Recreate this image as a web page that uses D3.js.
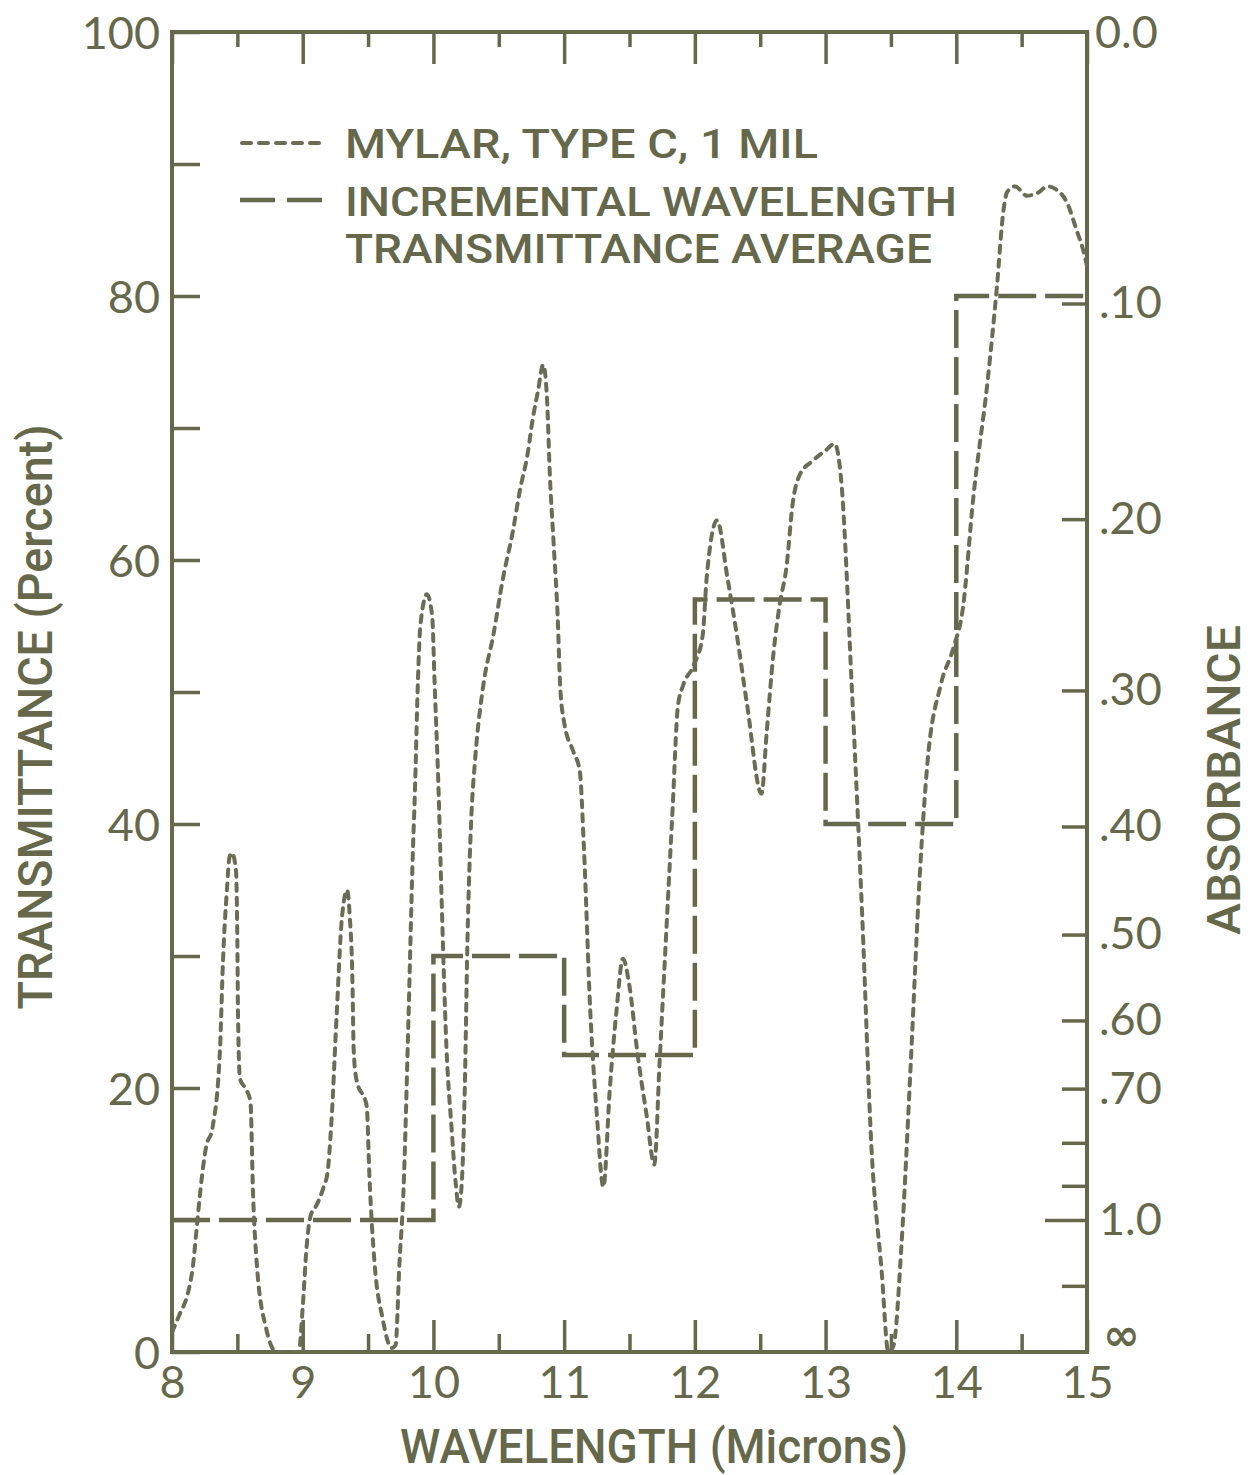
<!DOCTYPE html>
<html>
<head>
<meta charset="utf-8">
<script src="https://cdn.jsdelivr.net/npm/d3@7"></script>
<style>
  body { margin: 0; background: #ffffff; }
  svg { display: block; }
</style>
</head>
<body>
<svg id="chart" width="1250" height="1475"></svg>
<script>
// Mylar (type C, 1 mil) infrared transmittance spectrum, wavelength in microns
const wavelength = [
  8.00, 8.06, 8.12, 8.16, 8.19, 8.22, 8.26, 8.31, 8.367, 8.39, 8.42, 8.44, 8.46, 8.49, 8.50, 8.505, 8.52, 8.56, 8.60, 8.62, 8.65, 8.72, 8.80,
  8.97, 9.00, 9.03, 9.06, 9.11, 9.16, 9.19, 9.22, 9.26, 9.30, 9.34, 9.36, 9.38, 9.39, 9.41, 9.49, 9.51, 9.55, 9.61, 9.68,
  9.71, 9.74, 9.77, 9.81, 9.84, 9.86, 9.88, 9.90, 9.95, 9.99, 10.01, 10.04, 10.06, 10.10, 10.14, 10.17, 10.195,
  10.22, 10.24, 10.26, 10.29, 10.32, 10.38, 10.46, 10.53, 10.61, 10.66, 10.72, 10.76, 10.80, 10.84,
  10.87, 10.89, 10.92, 10.95, 10.97, 11.00, 11.07, 11.12, 11.15, 11.20, 11.25, 11.30,
  11.35, 11.40, 11.45, 11.50, 11.56, 11.63, 11.69, 11.73, 11.79, 11.83, 11.87, 11.91, 11.99, 12.06, 12.09, 12.17,
  12.25, 12.32, 12.40, 12.51, 12.55, 12.60, 12.65, 12.70, 12.75, 12.80, 12.90, 13.00, 13.07,
  13.12, 13.20, 13.28, 13.35, 13.43, 13.48, 13.52, 13.58, 13.65, 13.72, 13.78, 13.88, 13.98, 14.05,
  14.13, 14.24, 14.31, 14.36, 14.39, 14.45, 14.54, 14.62, 14.70, 14.76, 14.85, 14.92, 14.97, 15.00
];
const transmittance = [
  1.5, 2.9, 4.4, 6.5, 9.5, 12.5, 15.5, 17.0, 22.9, 29.6, 35.0, 37.5, 37.8, 36.4, 31.0, 25.6, 20.7, 20.0, 19.0, 12.0, 6.5, 1.8, 0.0,
  0.0, 3.4, 8.0, 10.3, 11.2, 12.5, 13.6, 17.5, 25.6, 32.9, 35.0, 33.0, 28.3, 22.9, 20.7, 18.6, 13.4, 6.7, 2.6, 0.3,
  0.5, 6.7, 12.0, 25.6, 37.0, 43.0, 50.4, 55.0, 57.4, 55.8, 50.4, 42.3, 35.2, 23.0, 16.8, 12.8, 11.0,
  13.4, 20.0, 31.0, 40.5, 45.0, 50.4, 54.4, 58.5, 62.3, 65.2, 68.0, 70.7, 72.8, 74.8,
  72.0, 66.6, 61.2, 55.8, 50.4, 47.7, 45.5, 44.0, 38.5, 25.8, 18.0, 12.5,
  20.0, 25.8, 29.8, 27.7, 22.7, 18.0, 14.2, 21.9, 33.5, 41.2, 48.9, 50.5, 52.0, 54.3, 58.6, 63.0,
  58.6, 54.4, 49.0, 42.3, 47.0, 52.8, 56.7, 59.4, 64.4, 66.4, 67.5, 68.3, 68.8,
  66.0, 50.5, 33.1, 15.7, 6.0, 0.0, 0.5, 8.0, 21.5, 36.0, 44.7, 50.5, 53.4, 56.3,
  64.7, 73.6, 80.6, 86.4, 87.9, 88.3, 87.6, 87.8, 88.3, 88.1, 87.0, 85.0, 83.5, 82.3
];

// Transmittance averaged over one-micron wavelength increments
const bandEdges = [8, 10, 11, 12, 13, 14, 15];
const bandAverage = [10, 30, 22.5, 57, 40, 80];

// Axis ticks
const xMajorTicks = [8, 9, 10, 11, 12, 13, 14, 15];
const xMinorTicks = [8.5, 9.5, 10.5, 11.5, 12.5, 13.5, 14.5];
const yTicks = [0, 10, 20, 30, 40, 50, 60, 70, 80, 90, 100];
const yTickLabels = ["0", "", "20", "", "40", "", "60", "", "80", "", "100"];
const absorbanceTicks = [0.1, 0.2, 0.3, 0.4, 0.5, 0.6, 0.7, 0.8, 0.9, 1.0, 1.3];
const absorbanceLabels = [".10", ".20", ".30", ".40", ".50", ".60", ".70", "", "", "1.0", ""];

const ink = "#65684b";
const curveInk = "#6a6c55";

const svg = d3.select("#chart");

const x = d3.scaleLinear().domain([8, 15]).range([172, 1087]);
const y = d3.scaleLinear().domain([0, 100]).range([1352, 32]);
const absToT = a => 100 * Math.pow(10, -a);

// clip for data marks
svg.append("defs").append("clipPath").attr("id", "plotClip")
  .append("rect").attr("x", 172).attr("y", 32).attr("width", 915).attr("height", 1320);

const numFont = "Lato, 'DejaVu Sans', sans-serif";
const titleFont = "Roboto, 'Liberation Sans', sans-serif";

function styleAxis(g) {
  g.select(".domain").remove();
  g.selectAll(".tick line").attr("stroke", ink).attr("stroke-width", 3.5);
  g.selectAll(".tick text").attr("fill", ink).attr("font-family", numFont).attr("font-size", 45);
}

// bottom axis (ticks point up into the plot)
svg.append("g").attr("transform", "translate(0,1352)")
  .call(d3.axisBottom(x).tickValues(xMajorTicks).tickSize(-32).tickPadding(14).tickFormat(d3.format("d")))
  .call(styleAxis);
svg.append("g").attr("transform", "translate(0,1352)")
  .call(d3.axisBottom(x).tickValues(xMinorTicks).tickSize(-18).tickFormat(""))
  .call(styleAxis);

// top axis (ticks point down)
svg.append("g").attr("transform", "translate(0,32)")
  .call(d3.axisTop(x).tickValues(xMajorTicks).tickSize(-32).tickFormat(""))
  .call(styleAxis);
svg.append("g").attr("transform", "translate(0,32)")
  .call(d3.axisTop(x).tickValues(xMinorTicks).tickSize(-15).tickFormat(""))
  .call(styleAxis);

// left transmittance axis
svg.append("g").attr("transform", "translate(172,0)")
  .call(d3.axisLeft(y).tickValues(yTicks).tickSize(-28).tickPadding(12)
    .tickFormat((d, i) => yTickLabels[i]))
  .call(styleAxis)
  .call(g => g.selectAll(".tick text").attr("dy", "0.36em"));

// right absorbance axis
const absAxisG = svg.append("g").attr("transform", "translate(1087,0)")
  .call(d3.axisRight(y).tickValues(absorbanceTicks.map(absToT)).tickSize(-25).tickPadding(12)
    .tickFormat((d, i) => absorbanceLabels[i]))
  .call(styleAxis);
absAxisG.selectAll(".tick line").attr("x2", (d, i) => absorbanceTicks[i] === 1.0 ? -42 : -25);

// end labels of the absorbance scale
svg.append("text").attr("x", 1095).attr("y", y(100)).attr("dy", "0.36em")
  .attr("fill", ink).attr("font-family", numFont).attr("font-size", 45).text("0.0");
svg.append("text").attr("x", 1103).attr("y", y(0) - 2)
  .attr("fill", ink).attr("font-family", "'DejaVu Sans', sans-serif").attr("font-weight", "bold")
  .attr("font-size", 44).text("∞");

// plot frame
svg.append("rect").attr("x", 172).attr("y", 32).attr("width", 915).attr("height", 1320)
  .attr("fill", "none").attr("stroke", ink).attr("stroke-width", 4);

// averaged transmittance steps
const bandPoints = bandEdges.map((e, i) => [e, bandAverage[Math.min(i, bandAverage.length - 1)]]);
svg.append("path")
  .datum(bandPoints)
  .attr("clip-path", "url(#plotClip)")
  .attr("fill", "none").attr("stroke", ink).attr("stroke-width", 4.5)
  .attr("stroke-dasharray", "38,9")
  .attr("d", d3.line().x(d => x(d[0])).y(d => y(d[1])).curve(d3.curveStepAfter));

// measured spectrum
const spectrum = wavelength.map((w, i) => [w, transmittance[i]]);
svg.append("path")
  .datum(spectrum)
  .attr("clip-path", "url(#plotClip)")
  .attr("fill", "none").attr("stroke", curveInk).attr("stroke-width", 4)
  .attr("stroke-linecap", "round")
  .attr("stroke-dasharray", "7,7")
  .attr("d", d3.line().x(d => x(d[0])).y(d => y(d[1])).curve(d3.curveMonotoneX));

// legend
const legend = svg.append("g");
legend.append("line").attr("x1", 242).attr("x2", 320).attr("y1", 143).attr("y2", 143)
  .attr("stroke", curveInk).attr("stroke-width", 4).attr("stroke-linecap", "round")
  .attr("stroke-dasharray", "9,8");
legend.append("line").attr("x1", 240).attr("x2", 322).attr("y1", 200).attr("y2", 200)
  .attr("stroke", ink).attr("stroke-width", 4.5).attr("stroke-dasharray", "35,12");
const legendLines = [
  { text: "MYLAR, TYPE C, 1 MIL", base: 158, len: 473 },
  { text: "INCREMENTAL WAVELENGTH", base: 216, len: 612 },
  { text: "TRANSMITTANCE AVERAGE", base: 263, len: 587 }
];
legend.selectAll("text.leg").data(legendLines).join("text")
  .attr("class", "leg")
  .attr("x", 345).attr("y", d => d.base)
  .attr("textLength", d => d.len).attr("lengthAdjust", "spacingAndGlyphs")
  .attr("fill", ink).attr("font-family", titleFont).attr("font-weight", 500)
  .attr("font-size", 40).text(d => d.text);

// axis titles
svg.append("text").attr("x", 654).attr("y", 1463).attr("text-anchor", "middle")
  .attr("textLength", 508).attr("lengthAdjust", "spacingAndGlyphs")
  .attr("fill", ink).attr("font-family", titleFont).attr("font-weight", 500).attr("font-size", 49)
  .text("WAVELENGTH (Microns)");
svg.append("text").attr("transform", "translate(52,717) rotate(-90)").attr("text-anchor", "middle")
  .attr("textLength", 585).attr("lengthAdjust", "spacingAndGlyphs")
  .attr("fill", ink).attr("font-family", titleFont).attr("font-weight", 500).attr("font-size", 48)
  .text("TRANSMITTANCE (Percent)");
svg.append("text").attr("transform", "translate(1240,780) rotate(-90)").attr("text-anchor", "middle")
  .attr("textLength", 310).attr("lengthAdjust", "spacingAndGlyphs")
  .attr("fill", ink).attr("font-family", titleFont).attr("font-weight", 500).attr("font-size", 46)
  .text("ABSORBANCE");
</script>
</body>
</html>
